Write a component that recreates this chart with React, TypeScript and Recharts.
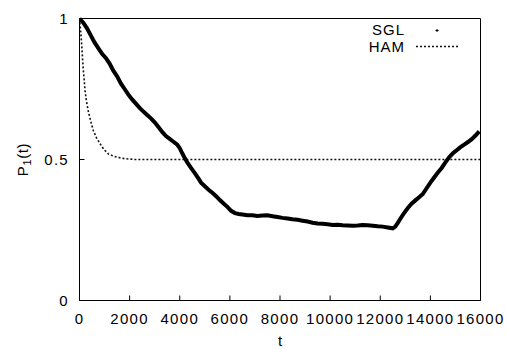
import { Legend, Line, LineChart, XAxis, YAxis } from 'recharts';

// P1(t).
const SGL_T = [
  0, 150, 300, 450, 600, 750, 900, 1050, 1200, 1350, 1500, 1650, 1800, 1950, 2100, 2250, 2400, 2550, 2700,
  2850, 3000, 3150, 3300, 3450, 3600, 3750, 3900, 4000, 4100, 4200, 4300, 4450, 4600, 4750, 4850, 5000,
  5150, 5300, 5450, 5600, 5750, 5900, 6050, 6200, 6350, 6500, 6700, 6900, 7100, 7300, 7500, 7700, 7900,
  8100, 8300, 8500, 8700, 8900, 9100, 9300, 9500, 9700, 9900, 10100, 10300, 10500, 10700, 10900, 11100,
  11300, 11500, 11700, 11900, 12100, 12300, 12500, 12600, 12700, 12800, 12950, 13100, 13250, 13400,
  13550, 13700, 13850, 14000, 14150, 14300, 14450, 14600, 14750, 14900, 15050, 15200, 15350, 15500,
  15650, 15800, 15950,
];
const SGL_P = [
  1.0, 0.985, 0.965, 0.94, 0.915, 0.895, 0.875, 0.86, 0.84, 0.815, 0.795, 0.77, 0.75, 0.73, 0.713, 0.698,
  0.683, 0.67, 0.658, 0.646, 0.632, 0.615, 0.598, 0.583, 0.573, 0.563, 0.553, 0.54, 0.522, 0.505, 0.49,
  0.47, 0.452, 0.432, 0.418, 0.405, 0.393, 0.382, 0.37, 0.356, 0.344, 0.332, 0.318, 0.31, 0.307, 0.305,
  0.302, 0.302, 0.3, 0.301, 0.302, 0.299, 0.296, 0.293, 0.291, 0.288, 0.286, 0.283, 0.28, 0.276, 0.273,
  0.272, 0.27, 0.268, 0.269, 0.267, 0.266, 0.265, 0.266, 0.268, 0.267, 0.265, 0.263, 0.262, 0.259, 0.256,
  0.262, 0.275, 0.29, 0.31, 0.328, 0.343, 0.355, 0.366, 0.378, 0.398, 0.418, 0.436, 0.454, 0.47, 0.49,
  0.508, 0.522, 0.533, 0.544, 0.553, 0.562, 0.572, 0.585, 0.6,
];

const HAM_T = [0, 30, 60, 90, 120, 150, 190, 220, 280, 350, 450, 550, 680, 820, 980, 1150, 1350, 1550, 1800, 2200, 16000];
const HAM_P = [1.0, 0.97, 0.94, 0.905, 0.86, 0.82, 0.78, 0.745, 0.705, 0.672, 0.635, 0.603, 0.577, 0.556, 0.535, 0.52, 0.512, 0.507, 0.503, 0.5, 0.5];

const X_TICKS = [0, 2000, 4000, 6000, 8000, 10000, 12000, 14000, 16000];
const Y_TICKS = [0, 0.5, 1];

const sglData = SGL_T.map((t, i) => ({ t, p: SGL_P[i] }));
const hamData = HAM_T.map((t, i) => ({ t, p: HAM_P[i] }));

const FONT = '"Liberation Sans", Arial, Helvetica, sans-serif';
const TICK = { fill: '#000', fontSize: 15, fontFamily: FONT, letterSpacing: 1.3 } as const;
const AXIS_LINE = { stroke: '#000', strokeWidth: 1 };
const blank = () => '';

function YLabel({ viewBox }: { viewBox?: { x: number; y: number; height: number } }) {
  const cy = (viewBox?.y ?? 18.5) + (viewBox?.height ?? 282) / 2;
  return (
    <text
      transform={`translate(28, ${cy}) rotate(-90)`}
      textAnchor="middle"
      fontFamily={FONT}
      fontSize={15}
      letterSpacing={0.6}
      fill="#000"
    >
      P
      <tspan fontSize={11} dy={3}>
        1
      </tspan>
      <tspan dy={-3}>(t)</tspan>
    </text>
  );
}

function KeyBox() {
  return (
    <svg width={507} height={60} style={{ display: 'block' }}>
      <text x={405} y={35} textAnchor="end" fontFamily={FONT} fontSize={15} letterSpacing={1} fill="#000">
        SGL
      </text>
      <path d="M435.5,30.5 h3 M437,29 v3" stroke="#000" strokeWidth={1} />
      <text x={405} y={52} textAnchor="end" fontFamily={FONT} fontSize={15} letterSpacing={1} fill="#000">
        HAM
      </text>
      <line x1={416} x2={459} y1={46.5} y2={46.5} stroke="#111" strokeWidth={1.6} strokeDasharray="2 2" />
    </svg>
  );
}

export default function App() {
  return (
    <div style={{ position: 'fixed', left: 0, top: 0, background: '#fff' }}>
      <LineChart
        width={507}
        height={349}
        margin={{ top: 8.5, right: 16.5, bottom: 0, left: 0 }}
        style={{ fontFamily: FONT }}
      >
        <XAxis
          xAxisId="bottom"
          dataKey="t"
          type="number"
          domain={[0, 16000]}
          ticks={X_TICKS}
          allowDataOverflow
          height={48.5}
          tickSize={-5}
          tickMargin={18}
          tick={TICK}
          axisLine={AXIS_LINE}
          tickLine={AXIS_LINE}
          interval={0}
          label={{ value: 't', position: 'insideBottom', offset: 3, fill: '#000', fontSize: 15, fontFamily: FONT }}
        />
        <XAxis
          xAxisId="top"
          orientation="top"
          dataKey="t"
          type="number"
          domain={[0, 16000]}
          ticks={X_TICKS}
          height={10}
          tickSize={-5}
          tickFormatter={blank}
          axisLine={AXIS_LINE}
          tickLine={AXIS_LINE}
          interval={0}
        />
        <YAxis
          yAxisId="left"
          type="number"
          domain={[0, 1]}
          ticks={Y_TICKS}
          width={79.5}
          tickSize={-5}
          tickMargin={15.5}
          tick={TICK}
          axisLine={AXIS_LINE}
          tickLine={AXIS_LINE}
          interval={0}
          label={<YLabel />}
        />
        <YAxis
          yAxisId="right"
          orientation="right"
          type="number"
          domain={[0, 1]}
          ticks={Y_TICKS}
          width={10}
          tickSize={-5}
          tickFormatter={blank}
          axisLine={AXIS_LINE}
          tickLine={AXIS_LINE}
          interval={0}
        />
        <Legend
          layout="horizontal"
          verticalAlign="middle"
          align="center"
          wrapperStyle={{ position: 'absolute', left: 0, top: 0, width: 507, height: 60 }}
          content={() => <KeyBox />}
        />
        <Line
          xAxisId="bottom"
          yAxisId="left"
          data={hamData}
          dataKey="p"
          name="HAM"
          type="linear"
          stroke="#111"
          strokeWidth={1.6}
          strokeDasharray="2 2"
          dot={false}
          isAnimationActive={false}
        />
        <Line
          xAxisId="bottom"
          yAxisId="left"
          data={sglData}
          dataKey="p"
          name="SGL"
          type="linear"
          stroke="#000"
          strokeWidth={4}
          dot={false}
          isAnimationActive={false}
        />
      </LineChart>
    </div>
  );
}
